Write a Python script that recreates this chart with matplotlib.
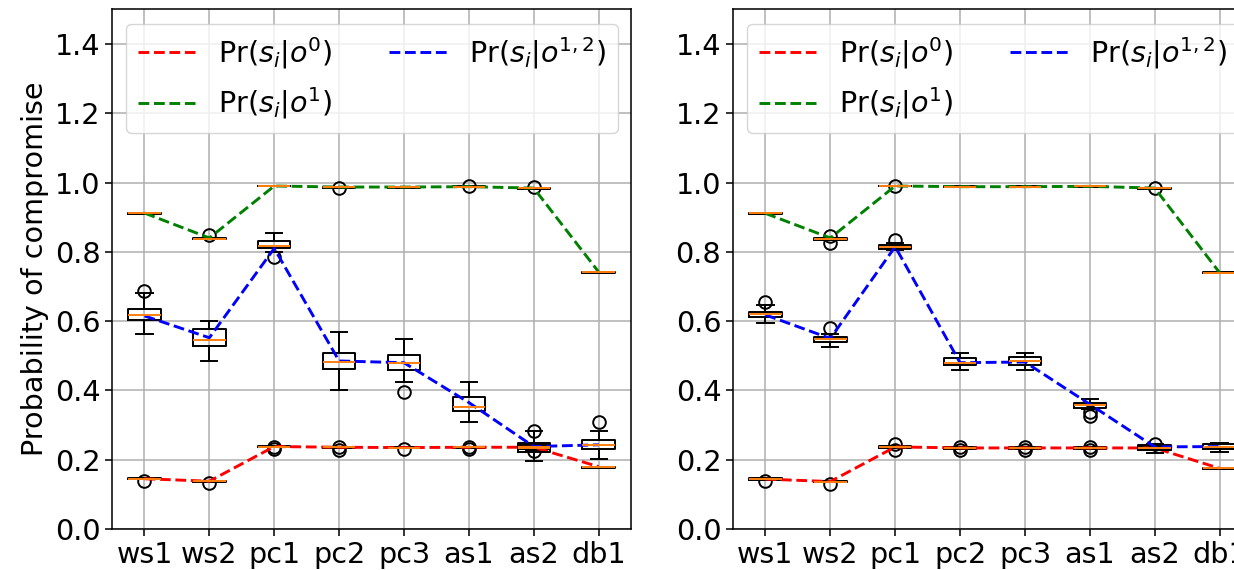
#!/usr/bin/env python3
"""
Boxplots of per-service compromise probability, with the three observation
sets joined by dashed lines (two runs side by side).
"""
import matplotlib
matplotlib.use('Agg')
import matplotlib.pyplot as plt

SERVICES = ['ws1', 'ws2', 'pc1', 'pc2', 'pc3', 'as1', 'as2', 'db1']
LABELS = [r'Pr$(s_i|o^0)$', r'Pr$(s_i|o^1)$', r'Pr$(s_i|o^{1,2})$']
COLORS = ['r', 'g', 'b']

# ---- left run ----
a_o0_med = [0.145, 0.138, 0.238, 0.236, 0.235, 0.236, 0.236, 0.178]
a_o0_q1 = [0.143, 0.136, 0.236, 0.234, 0.233, 0.234, 0.230, 0.176]
a_o0_q3 = [0.147, 0.140, 0.240, 0.238, 0.237, 0.238, 0.242, 0.180]
a_o0_lo = [0.143, 0.136, 0.236, 0.234, 0.233, 0.234, 0.228, 0.176]
a_o0_hi = [0.147, 0.140, 0.240, 0.238, 0.237, 0.238, 0.244, 0.180]
a_o0_fl = [[0.140], [0.132], [0.232, 0.238], [0.228, 0.238], [0.230],
           [0.230, 0.238], [0.225], []]
a_o0_line = [0.145, 0.138, 0.238, 0.236, 0.235, 0.236, 0.236, 0.180]

a_o1_med = [0.912, 0.838, 0.990, 0.986, 0.986, 0.988, 0.983, 0.742]
a_o1_q1 = [0.910, 0.836, 0.989, 0.985, 0.985, 0.987, 0.981, 0.740]
a_o1_q3 = [0.913, 0.840, 0.991, 0.987, 0.987, 0.989, 0.984, 0.743]
a_o1_lo = [0.910, 0.836, 0.989, 0.985, 0.985, 0.987, 0.981, 0.740]
a_o1_hi = [0.913, 0.840, 0.991, 0.987, 0.987, 0.989, 0.984, 0.743]
a_o1_fl = [[], [0.850], [], [0.985], [], [0.990], [0.986], []]
a_o1_line = [0.912, 0.840, 0.990, 0.987, 0.987, 0.988, 0.984, 0.742]

a_o12_med = [0.618, 0.546, 0.818, 0.482, 0.480, 0.353, 0.235, 0.243]
a_o12_q1 = [0.603, 0.528, 0.811, 0.462, 0.460, 0.342, 0.223, 0.231]
a_o12_q3 = [0.635, 0.577, 0.832, 0.508, 0.502, 0.380, 0.248, 0.257]
a_o12_lo = [0.563, 0.485, 0.800, 0.401, 0.424, 0.309, 0.197, 0.202]
a_o12_hi = [0.681, 0.601, 0.854, 0.570, 0.548, 0.425, 0.284, 0.284]
a_o12_fl = [[0.688], [], [0.785], [], [0.396], [], [0.283], [0.308]]
a_o12_line = [0.615, 0.552, 0.810, 0.485, 0.480, 0.365, 0.238, 0.243]

# ---- right run ----
b_o0_med = [0.144, 0.137, 0.237, 0.234, 0.234, 0.234, 0.234, 0.175]
b_o0_q1 = [0.142, 0.135, 0.235, 0.232, 0.232, 0.232, 0.229, 0.173]
b_o0_q3 = [0.146, 0.139, 0.239, 0.236, 0.236, 0.236, 0.239, 0.177]
b_o0_lo = [0.142, 0.135, 0.235, 0.232, 0.232, 0.232, 0.227, 0.173]
b_o0_hi = [0.146, 0.139, 0.239, 0.236, 0.236, 0.236, 0.241, 0.177]
b_o0_fl = [[0.140], [0.130], [0.245, 0.229], [0.238, 0.228], [0.236, 0.229],
           [0.238, 0.228], [], []]
b_o0_line = [0.144, 0.137, 0.237, 0.234, 0.234, 0.234, 0.234, 0.175]

b_o1_med = [0.911, 0.837, 0.990, 0.988, 0.988, 0.989, 0.984, 0.740]
b_o1_q1 = [0.910, 0.835, 0.989, 0.987, 0.987, 0.988, 0.982, 0.738]
b_o1_q3 = [0.912, 0.839, 0.991, 0.989, 0.989, 0.990, 0.985, 0.742]
b_o1_lo = [0.910, 0.835, 0.989, 0.987, 0.987, 0.988, 0.982, 0.738]
b_o1_hi = [0.912, 0.839, 0.991, 0.989, 0.989, 0.990, 0.985, 0.742]
b_o1_fl = [[], [0.847, 0.825], [0.990], [], [], [], [0.985], []]
b_o1_line = [0.911, 0.840, 0.990, 0.988, 0.988, 0.989, 0.984, 0.740]

b_o12_med = [0.620, 0.547, 0.815, 0.480, 0.486, 0.357, 0.235, 0.237]
b_o12_q1 = [0.612, 0.541, 0.809, 0.474, 0.474, 0.350, 0.228, 0.230]
b_o12_q3 = [0.627, 0.555, 0.821, 0.493, 0.496, 0.364, 0.242, 0.245]
b_o12_lo = [0.595, 0.524, 0.805, 0.458, 0.458, 0.345, 0.218, 0.223]
b_o12_hi = [0.646, 0.562, 0.826, 0.507, 0.507, 0.376, 0.245, 0.249]
b_o12_fl = [[0.655], [0.579], [0.833], [], [], [0.338, 0.325], [0.245], []]
b_o12_line = [0.618, 0.550, 0.815, 0.480, 0.482, 0.360, 0.237, 0.238]

S = 1.4  # everything drawn a bit heavier than matplotlib's defaults

plt.rcParams.update({
    'font.size': 20.6,
    'axes.linewidth': 0.8 * S,
    'grid.linewidth': 0.8 * S,
    'xtick.major.size': 3.5 * S,
    'ytick.major.size': 3.5 * S,
    'xtick.major.width': 0.8 * S,
    'ytick.major.width': 0.8 * S,
})


def make_stats(med, q1, q3, lo, hi, fl):
    return [
        dict(med=m, q1=a, q3=b, whislo=l, whishi=h, fliers=f)
        for m, a, b, l, h, f in zip(med, q1, q3, lo, hi, fl)
    ]


def draw_panel(ax, series, ylabel=None):
    pos = list(range(1, len(SERVICES) + 1))
    handles = []
    for (stats, line), color, label in zip(series, COLORS, LABELS):
        ax.bxp(stats, positions=pos, widths=0.5, manage_ticks=False,
               boxprops=dict(color='k', linewidth=1.0 * S),
               whiskerprops=dict(color='k', linewidth=1.0 * S),
               capprops=dict(color='k', linewidth=1.0 * S),
               medianprops=dict(color='C1', linewidth=1.0 * S),
               flierprops=dict(marker='o', markerfacecolor='none',
                               markeredgecolor='k', markersize=6.5 * S,
                               markeredgewidth=1.0 * S))
        h, = ax.plot(pos, line, '--', color=color, linewidth=1.5 * S,
                     label=label)
        handles.append(h)
    ax.set_xlim(0.5, len(SERVICES) + 0.5)
    ax.set_ylim(0, 1.5)
    ax.set_xticks(pos)
    ax.set_xticklabels(SERVICES)
    ax.set_yticks([0.0, 0.2, 0.4, 0.6, 0.8, 1.0, 1.2, 1.4])
    ax.grid(True)
    if ylabel:
        ax.set_ylabel(ylabel)
    ax.legend(handles=handles, loc='upper left', ncol=2)


fig = plt.figure(figsize=(12.34, 5.70), dpi=100)
ax1 = fig.add_axes([0.0908, 0.0719, 0.4206, 0.9118])
ax2 = fig.add_axes([0.5940, 0.0719, 0.4206, 0.9118])

left = [
    (make_stats(a_o0_med, a_o0_q1, a_o0_q3, a_o0_lo, a_o0_hi, a_o0_fl), a_o0_line),
    (make_stats(a_o1_med, a_o1_q1, a_o1_q3, a_o1_lo, a_o1_hi, a_o1_fl), a_o1_line),
    (make_stats(a_o12_med, a_o12_q1, a_o12_q3, a_o12_lo, a_o12_hi, a_o12_fl), a_o12_line),
]
right = [
    (make_stats(b_o0_med, b_o0_q1, b_o0_q3, b_o0_lo, b_o0_hi, b_o0_fl), b_o0_line),
    (make_stats(b_o1_med, b_o1_q1, b_o1_q3, b_o1_lo, b_o1_hi, b_o1_fl), b_o1_line),
    (make_stats(b_o12_med, b_o12_q1, b_o12_q3, b_o12_lo, b_o12_hi, b_o12_fl), b_o12_line),
]

draw_panel(ax1, left, ylabel='Probability of compromise')
draw_panel(ax2, right)

fig.savefig('out.png', dpi=100)
